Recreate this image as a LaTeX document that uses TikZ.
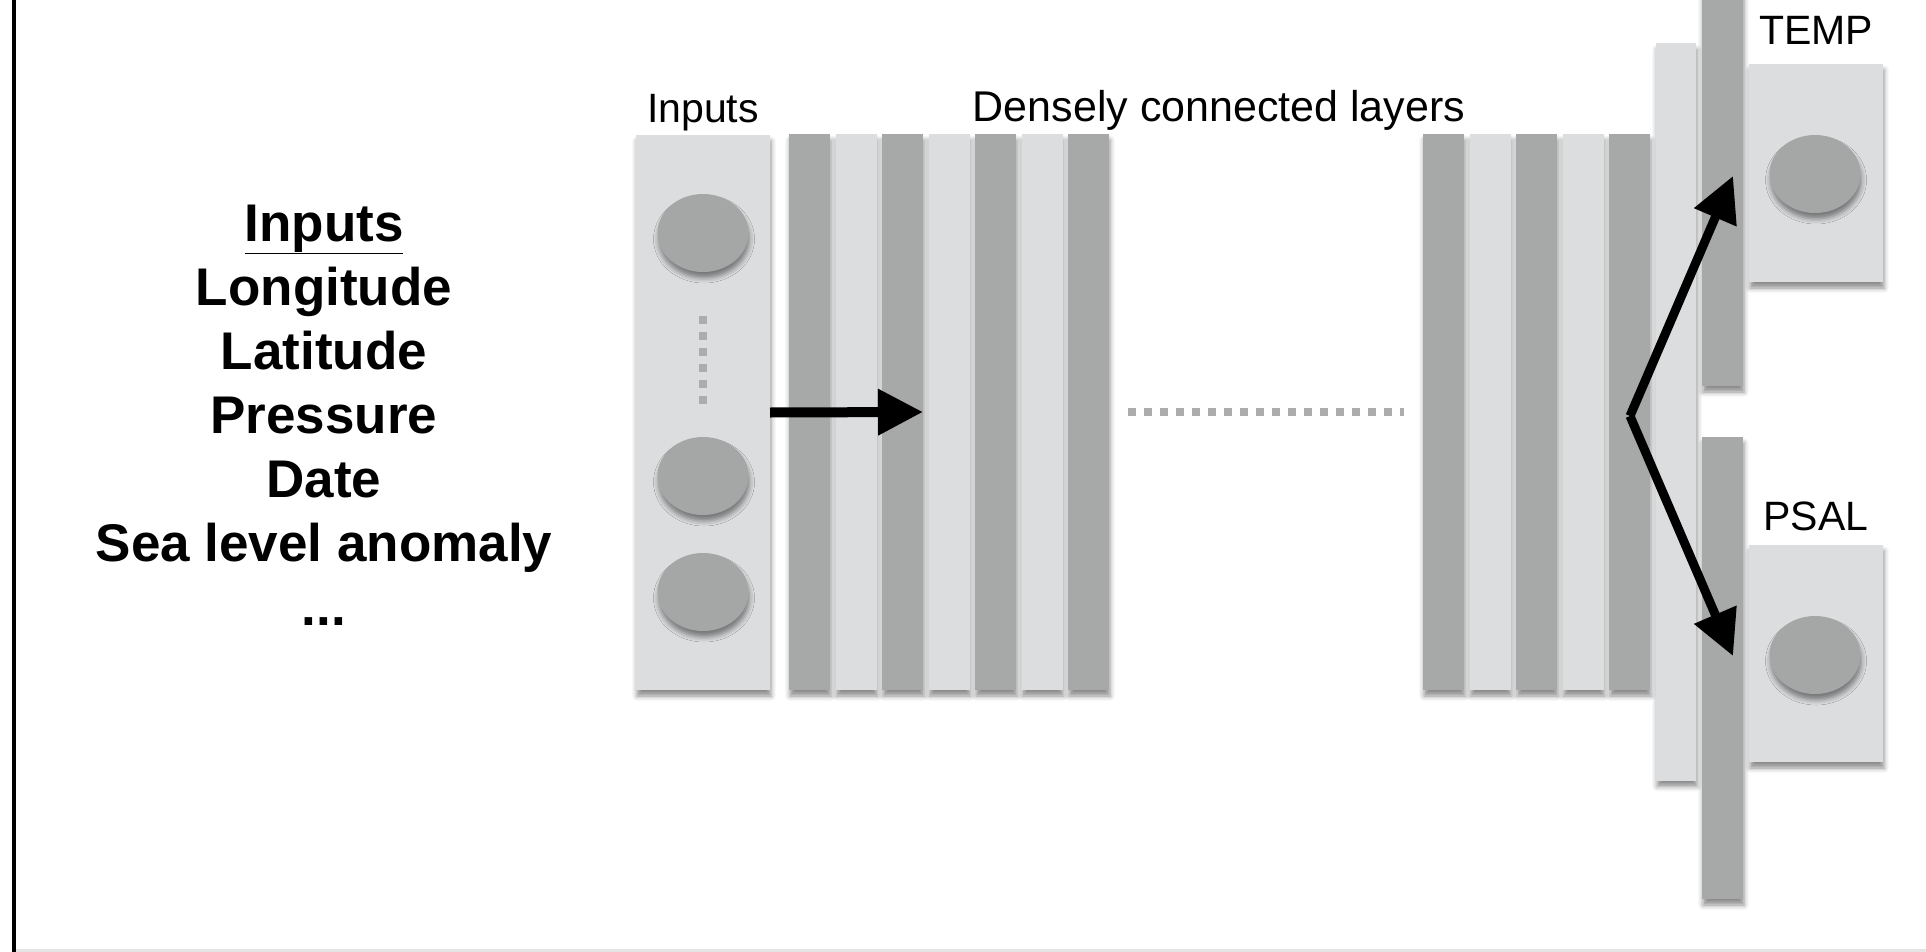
\documentclass[tikz,border=0pt]{standalone}
\usepackage{fontspec}
\setmainfont{Liberation Sans}
\usetikzlibrary{shapes, arrows.meta, positioning, shadows.blur}
\definecolor{barlight}{RGB}{220,221,223}
\definecolor{bardark}{RGB}{166,169,168}
\definecolor{celldark}{RGB}{165,167,166}
\definecolor{dotgray}{RGB}{172,172,172}
\definecolor{framegray}{RGB}{228,228,228}
\tikzstyle{softshadow} = [blur shadow={shadow xshift=1pt, shadow yshift=-6pt, shadow blur radius=5pt, shadow opacity=45}]
\tikzstyle{lightbar} = [rectangle, fill=barlight, minimum width=41pt, minimum height=556pt, inner sep=0pt, outer sep=0pt, softshadow]
\tikzstyle{darkbar} = [lightbar, fill=bardark]
\tikzstyle{lightbox} = [rectangle, fill=barlight, minimum width=134pt, inner sep=0pt, outer sep=0pt, softshadow]
\tikzstyle{cell} = [ellipse, fill=celldark, minimum width=91pt, minimum height=78pt, inner sep=0pt, softshadow]
\tikzstyle{lbl} = [inner sep=0pt, font=\fontsize{41}{49}\selectfont]
\tikzstyle{dots} = [dotgray, line width=8pt, dash pattern=on 8pt off 8pt]
\tikzstyle{bigarrow} = [line width=10pt, -{Triangle[length=45pt, width=44pt]}]

\begin{document}
\begin{tikzpicture}[x=1pt, y=-1pt]
  \useasboundingbox (0,0) rectangle (1926,952);
  \clip (0,0) rectangle (1926,952);
  % slide frame
  \draw[line width=4pt] (13.5,0) -- (13.5,952);
  \draw[line width=3pt, framegray] (16,950) -- (1926,950);

  % list of inputs
  \node[align=center, inner sep=0pt, font=\fontsize{53}{64}\selectfont\bfseries] (vars) at (324,415)
    {\underline{Inputs}\\Longitude\\Latitude\\Pressure\\Date\\Sea level anomaly\\...};

  % input layer
  \node[lightbox, minimum height=555pt] (inbox) at (703,412.5) {};
  \node[lbl, above=4pt of inbox] (inlbl) {Inputs};
  \node[cell] (in1) at (703,233) {};
  \node[cell] (in2) at (703,476) {};
  \node[cell] (in3) at (703,592) {};
  \coordinate (vd1) at (703,316);
  \coordinate (vd2) at (703,404);
  \draw[dots] (vd1) -- (vd2);

  % dense layers
  \node[darkbar] (l1) at (809.5,412) {};
  \foreach \i/\j/\s in {2/1/lightbar, 3/2/darkbar, 4/3/lightbar, 5/4/darkbar, 6/5/lightbar, 7/6/darkbar}
    \node[\s, right=5.5pt of l\j] (l\i) {};
  \node[lbl, anchor=base, font=\fontsize{43}{50}\selectfont] (dense) at (1219,122) {Densely connected layers};

  \coordinate (hd1) at (1128,412);
  \coordinate (hd2) at (1404,412);
  \draw[dots] (hd1) -- (hd2);

  \node[darkbar] (r1) at (1443.5,412) {};
  \foreach \i/\j/\s in {2/1/lightbar, 3/2/darkbar, 4/3/lightbar, 5/4/darkbar}
    \node[\s, right=5.5pt of r\j] (r\i) {};
  \node[lightbar, minimum width=40pt, minimum height=737pt, right=6pt of r5] (last) {};

  % output layers
  \node[darkbar, minimum height=406pt] (otemp) at (1722.5,183) {};
  \node[darkbar, minimum height=462pt] (opsal) at (1722.5,668) {};
  \node[lightbox, minimum height=218pt] (tempbox) at (1816,173) {};
  \node[lightbox, minimum height=217pt] (psalbox) at (1816,653.5) {};
  \node[cell] (tempcell) at (1815,174) {};
  \node[cell] (psalcell) at (1815,655) {};
  \node[lbl, above=19pt of tempbox] (templbl) {TEMP};
  \node[lbl, above=14pt of psalbox] (psallbl) {PSAL};

  % arrows
  \draw[bigarrow] (inbox.east) -- (l3.east);
  \coordinate (fork) at (1630,416);
  \coordinate (ttip) at (1733,176);
  \coordinate (ptip) at (1733,656);
  \draw[bigarrow, line width=9pt] (fork) -- (ttip);
  \draw[bigarrow, line width=9pt] (fork) -- (ptip);
\end{tikzpicture}
\end{document}
